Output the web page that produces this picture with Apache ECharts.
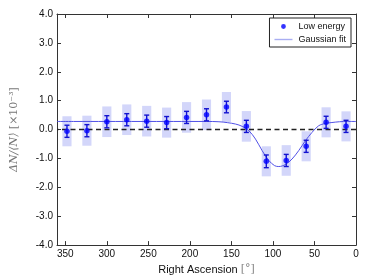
<!DOCTYPE html>
<html><head><meta charset="utf-8">
<script src="https://cdn.jsdelivr.net/npm/echarts@6/dist/echarts.min.js"></script>
<style>html,body{margin:0;padding:0;background:#fff}#c{width:374px;height:280px}</style>
</head><body><div id="c"></div>
<script>
var ra = [348,324,300,276,252,228,204,180,156,132,108,84,60,36,12];
var values = [-0.06,-0.04,0.27,0.34,0.29,0.24,0.42,0.51,0.78,0.11,-1.10,-1.07,-0.58,0.25,0.11];
var statErr = [0.21,0.21,0.21,0.21,0.21,0.21,0.21,0.21,0.20,0.21,0.22,0.21,0.21,0.21,0.21];
var sysErr = [0.52,0.52,0.53,0.53,0.53,0.52,0.53,0.53,0.52,0.53,0.52,0.53,0.52,0.52,0.52];
var fitRA = [0,10,20,30,37,45,53,61,69,77,85,93,98,105,113,121,129,137,145,155,165,180,220,260,300,340,360];
var fitVal = [0.28,0.28,0.27,0.24,0.21,0.13,-0.10,-0.39,-0.73,-1.02,-1.21,-1.28,-1.25,-1.07,-0.73,-0.33,-0.04,0.11,0.19,0.24,0.27,0.28,0.28,0.28,0.28,0.28,0.28];

var pts = ra.map(function(r,i){return [r, values[i], statErr[i], sysErr[i]];});
var fit = fitRA.map(function(r,i){return [r, fitVal[i]];});
var BOXW = 5.5;

var chart = echarts.init(document.getElementById('c'), null, {renderer:'canvas'});
function axLine(){ return {show:true,onZero:false,lineStyle:{color:'#333',width:1}}; }
function axTick(){ return {show:true,inside:true,length:4,lineStyle:{color:'#333'}}; }
chart.setOption({
  animation:false,
  textStyle:{fontFamily:'Liberation Sans'},
  grid:{left:56,right:18,top:14,bottom:33,containLabel:false},
  legend:{
    orient:'vertical', right:23, top:18, itemWidth:20, itemHeight:8, itemGap:4,
    padding:[4,5,3,4], borderColor:'#222', borderWidth:1, borderRadius:0, backgroundColor:'#fff',
    textStyle:{fontSize:9, color:'#111', fontFamily:'Liberation Sans'},
    data:[
      {name:'Low energy', icon:'path://M0,0 M20,8 M10,1.6 A2.4,2.4 0 1 1 10,6.4 A2.4,2.4 0 1 1 10,1.6 Z', itemStyle:{color:'#0000ff'}},
      {name:'Gaussian fit', icon:'path://M0,0 M20,8 M1,3.3 L19,3.3 L19,4.7 L1,4.7 Z', itemStyle:{color:'#a9aef2'}}
    ]
  },
  xAxis:[
    {type:'value',min:0,max:360,interval:50,inverse:true,position:'bottom',
      name:'{a|Right Ascension }{b|[°]}', nameLocation:'middle', nameGap:14,
      nameTextStyle:{rich:{a:{fontSize:11,color:'#111',fontFamily:'Liberation Sans'},b:{fontSize:11,color:'#888',fontFamily:'DejaVu Serif'}}},
      axisLine:axLine(), axisTick:axTick(), splitLine:{show:false},
      axisLabel:{fontSize:10,color:'#111',margin:4}},
    {type:'value',min:0,max:360,interval:50,inverse:true,position:'top',
      axisLine:axLine(), axisTick:axTick(), splitLine:{show:false}, axisLabel:{show:false}}
  ],
  yAxis:[
    {type:'value',min:-4,max:4,interval:1,position:'left',
      name:'{i|ΔN/⟨N⟩} {r|[×10⁻³]}', nameLocation:'middle', nameGap:37, nameRotate:90,
      nameTextStyle:{rich:{
        i:{fontSize:11,color:'#777',fontFamily:'DejaVu Serif',fontStyle:'italic'},
        r:{fontSize:11,color:'#777',fontFamily:'DejaVu Serif'}}},
      axisLine:axLine(), axisTick:axTick(), splitLine:{show:false},
      axisLabel:{fontSize:10,color:'#111',margin:4,formatter:function(v){return v.toFixed(1);}}},
    {type:'value',min:-4,max:4,interval:1,position:'right',
      axisLine:axLine(), axisTick:axTick(), splitLine:{show:false}, axisLabel:{show:false}}
  ],
  series:[
    {type:'custom', name:'sys', data:pts, z:1, silent:true,
      renderItem:function(params, api){
        var x=api.value(0), y=api.value(1), s=api.value(3);
        var p1=api.coord([x+BOXW, y+s]), p2=api.coord([x-BOXW, y-s]);
        var x0=Math.min(p1[0],p2[0]), y0=Math.min(p1[1],p2[1]);
        return {type:'rect', shape:{x:x0,y:y0,width:Math.abs(p2[0]-p1[0]),height:Math.abs(p2[1]-p1[1])},
          style:{fill:'#d3d6fa'}};
      }},
    {type:'line', name:'zero', data:[[0,0],[360,0]], showSymbol:false, z:2, silent:true,
      lineStyle:{color:'#222',width:1.6,type:[5,3.5]}},
    {type:'line', name:'Gaussian fit', data:fit, smooth:0.35, showSymbol:false, symbol:'none', z:3,
      lineStyle:{color:'#5050e6',width:1}, itemStyle:{color:'#a9aef2'}},
    {type:'custom', name:'stat', data:pts, z:4, silent:true,
      renderItem:function(params, api){
        var x=api.value(0), y=api.value(1), s=api.value(2);
        var top=api.coord([x, y+s]), bot=api.coord([x, y-s]);
        var c=top[0], hw=2.5;
        var st={stroke:'#1212d0',lineWidth:1.4};
        return {type:'group', children:[
          {type:'line', shape:{x1:c,y1:top[1],x2:c,y2:bot[1]}, style:st},
          {type:'line', shape:{x1:c-hw,y1:top[1],x2:c+hw,y2:top[1]}, style:st},
          {type:'line', shape:{x1:c-hw,y1:bot[1],x2:c+hw,y2:bot[1]}, style:st}
        ]};
      }},
    {type:'scatter', name:'Low energy', data:pts.map(function(p){return [p[0],p[1]];}), symbol:'circle', symbolSize:5.5, z:5,
      itemStyle:{color:'#0000ff'}}
  ]
});
</script></body></html>
